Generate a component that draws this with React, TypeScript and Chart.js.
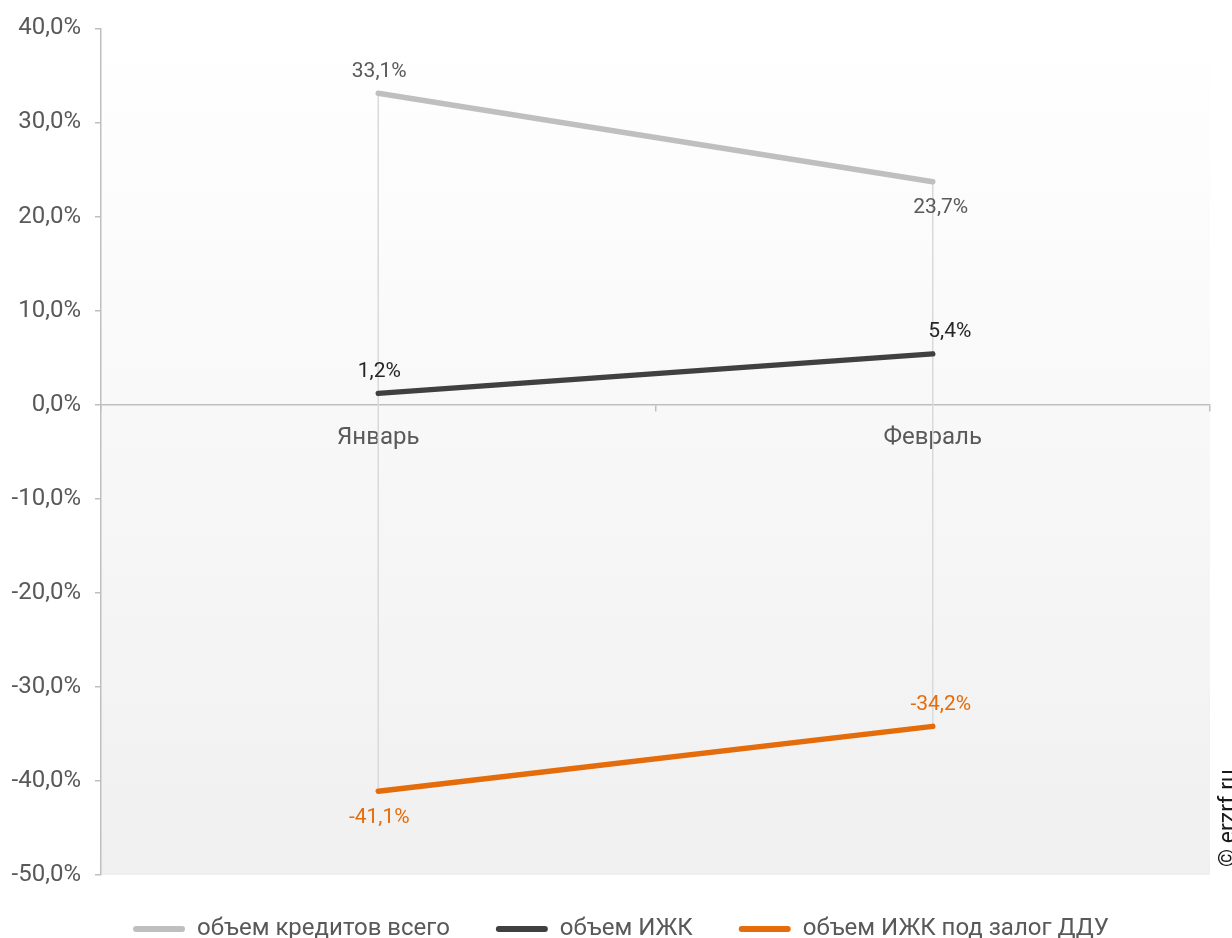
import React, { useEffect, useRef } from "react";
import { Chart, registerables } from "chart.js";

Chart.register(...registerables);

const categories = ["Январь", "Февраль"];
const totalLoans = [33.1, 23.7];
const izhkLoans = [1.2, 5.4];
const izhkDduLoans = [-41.1, -34.2];
const seriesNames = ["объем кредитов всего", "объем ИЖК", "объем ИЖК под залог ДДУ"];
const yMin = -50;
const yMax = 40;
const yStep = 10;
const watermark = "© erzrf.ru";

const lineColors = ["#bfbfbf", "#404040", "#e46c0a"];
const labelColors = ["#595959", "#262626", "#e46c0a"];
// label placement: -1 above, +1 below
const labelSides = [
  [-1, 1],
  [-1, -1],
  [1, -1],
];
const labelDx = [
  [1, 8],
  [1, 17],
  [1, 8],
];

const FONT = "Roboto";
const fmt = (v: number) => v.toFixed(1).replace(".", ",") + "%";

const bgPlugin = {
  id: "bgGradient",
  beforeDraw(chart: any) {
    const { ctx, chartArea } = chart;
    const g = ctx.createLinearGradient(0, chartArea.top, 0, chartArea.bottom);
    g.addColorStop(0, "#ffffff");
    g.addColorStop(1, "#f0f0f0");
    ctx.save();
    ctx.fillStyle = g;
    ctx.fillRect(chartArea.left, chartArea.top, chartArea.right - chartArea.left, chartArea.bottom - chartArea.top);
    ctx.restore();
  },
};

const hiLowPlugin = {
  id: "hiLow",
  beforeDatasetsDraw(chart: any) {
    const { ctx } = chart;
    const xs = chart.scales.x;
    const ys = chart.scales.y;
    ctx.save();
    ctx.strokeStyle = "#d9d9d9";
    ctx.lineWidth = 1.5;
    categories.forEach((_, i) => {
      const vals = chart.data.datasets.map((d: any) => d.data[i] as number);
      const hi = Math.max(...vals);
      const lo = Math.min(...vals);
      const x = xs.getPixelForValue(i);
      ctx.beginPath();
      ctx.moveTo(x, ys.getPixelForValue(hi));
      ctx.lineTo(x, ys.getPixelForValue(lo));
      ctx.stroke();
    });
    ctx.restore();
  },
};

const labelsPlugin = {
  id: "valueLabels",
  afterDatasetsDraw(chart: any) {
    const { ctx } = chart;
    ctx.save();
    ctx.font = `21px ${FONT}`;
    ctx.textAlign = "center";
    ctx.textBaseline = "middle";
    chart.data.datasets.forEach((ds: any, di: number) => {
      const meta = chart.getDatasetMeta(di);
      meta.data.forEach((pt: any, i: number) => {
        ctx.fillStyle = labelColors[di];
        const side = labelSides[di][i];
        const off = side < 0 ? -22 : 26.5;
        ctx.fillText(fmt(ds.data[i]), pt.x + labelDx[di][i], pt.y + off);
      });
    });
    ctx.restore();
  },
};

const watermarkPlugin = {
  id: "watermark",
  afterDraw(chart: any) {
    const { ctx } = chart;
    ctx.save();
    ctx.translate(1229, 867);
    ctx.rotate(-Math.PI / 2);
    ctx.font = `23px ${FONT}`;
    ctx.fillStyle = "#1a1a1a";
    ctx.textAlign = "left";
    ctx.textBaseline = "middle";
    ctx.fillText(watermark, 0, 0);
    ctx.restore();
  },
};

const legendShiftPlugin = {
  id: "legendShift",
  afterLayout(chart: any) {
    const lg = chart.legend;
    if (lg) {
      lg.top -= 4;
      lg.bottom -= 4;
      lg.left += 16;
      lg.right += 16;
    }
  },
};

export default function App() {
  const ref = useRef<HTMLCanvasElement | null>(null);
  useEffect(() => {
    if (!ref.current) return;
    const seriesData = [totalLoans, izhkLoans, izhkDduLoans];
    const chart = new Chart(ref.current, {
      type: "line",
      data: {
        labels: categories,
        datasets: seriesData.map((d, i) => ({
          label: seriesNames[i],
          data: d,
          borderColor: lineColors[i],
          backgroundColor: lineColors[i],
          borderWidth: 5.5,
          borderCapStyle: "round" as const,
          pointRadius: 0,
          pointHoverRadius: 0,
          tension: 0,
        })),
      },
      options: {
        animation: false,
        responsive: false,
        maintainAspectRatio: false,
        layout: { padding: { top: 27, right: 22, bottom: -17, left: 0 } },
        scales: {
          x: {
            type: "category",
            position: { y: 0 } as any,
            offset: true,
            grid: {
              drawOnChartArea: false,
              drawTicks: true,
              tickLength: 6,
              color: "#bfbfbf",
              lineWidth: 1.5,
              offset: true,
            },
            border: { color: "#bfbfbf", width: 1.5 },
            ticks: { color: "#595959", font: { family: FONT, size: 24 }, padding: 13 },
          },
          y: {
            min: yMin,
            max: yMax,
            afterFit(scale: any) {
              scale.width = 101;
            },
            grid: {
              drawOnChartArea: false,
              drawTicks: true,
              tickLength: 6,
              color: "#bfbfbf",
              lineWidth: 1.5,
            },
            border: { color: "#bfbfbf", width: 1.5 },
            ticks: {
              stepSize: yStep,
              color: "#595959",
              font: { family: FONT, size: 24 },
              padding: 14,
              callback: (v: any) => fmt(Number(v)),
            },
          },
        },
        plugins: {
          legend: {
            position: "bottom",
            labels: {
              boxWidth: 52,
              boxHeight: 6,
              useBorderRadius: true,
              borderRadius: 3,
              color: "#595959",
              font: { family: FONT, size: 24 },
              padding: 46,
              generateLabels(c: any) {
                return c.data.datasets.map((d: any, i: number) => ({
                  text: d.label,
                  fillStyle: lineColors[i],
                  strokeStyle: lineColors[i],
                  lineWidth: 0,
                  fontColor: "#595959",
                  hidden: false,
                  datasetIndex: i,
                  borderRadius: 3,
                }));
              },
            },
          },
          tooltip: { enabled: false },
        },
      },
      plugins: [bgPlugin, hiLowPlugin, labelsPlugin, watermarkPlugin, legendShiftPlugin],
    });
    return () => chart.destroy();
  }, []);
  return (
    <div style={{ position: "fixed", left: 0, top: 0, width: 1232, height: 938, background: "#fff" }}>
      <canvas ref={ref} width={1232} height={938} style={{ width: 1232, height: 938, display: "block" }} />
    </div>
  );
}
